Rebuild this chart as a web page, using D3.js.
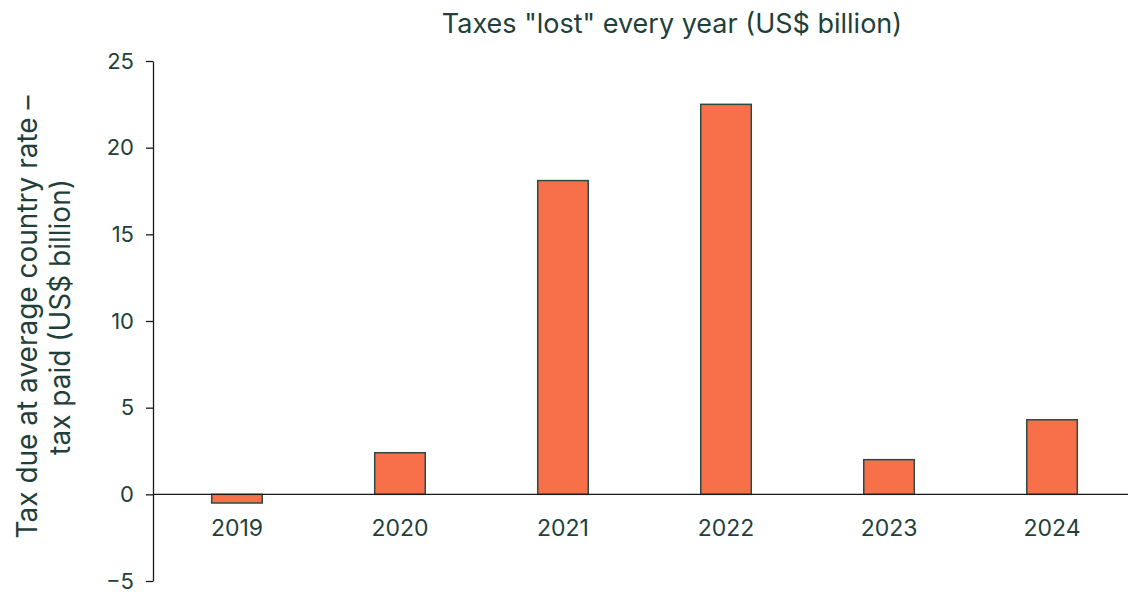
<!DOCTYPE html>
<html>
<head>
<meta charset="utf-8">
<script src="https://cdn.jsdelivr.net/npm/d3@7"></script>
<style>
  body { margin: 0; background: #fff; }
  text { font-family: Inter, "Noto Sans", sans-serif; fill: #1f3f3a; }
</style>
</head>
<body>
<svg id="chart" width="1128" height="592"></svg>
<script>
// years and the taxes "lost" each year (US$ billion)
const years = ["2019", "2020", "2021", "2022", "2023", "2024"];
const lostTax = [-0.5, 2.4, 18.1, 22.5, 2.0, 4.3];
const yTicks = [-5, 0, 5, 10, 15, 20, 25];

const svg = d3.select("#chart");

const x = d3.scaleBand()
  .domain(years)
  .range([153, 1136])
  .paddingInner(0.69)
  .paddingOuter(0.36);

const y = d3.scaleLinear()
  .domain([-5, 25])
  .range([581, 61]);

// title
svg.append("text")
  .attr("x", 672)
  .attr("y", 33)
  .attr("text-anchor", "middle")
  .attr("font-size", "27px")
  .text('Taxes "lost" every year (US$ billion)');

// y axis
const yAxis = svg.append("g")
  .attr("transform", "translate(153,0)")
  .call(d3.axisLeft(y).tickValues(yTicks).tickSize(7).tickSizeOuter(0).tickPadding(12));

yAxis.selectAll("path, line").attr("stroke", "#1a1a1a").attr("stroke-width", 1.3);
yAxis.selectAll("text")
  .attr("font-size", "22px")
  .style("font-family", "Inter, 'Noto Sans', sans-serif")
  .attr("fill", "#1f3f3a");

// y axis title
const yTitle = svg.append("text")
  .attr("transform", "translate(0,317) rotate(-90)")
  .attr("text-anchor", "middle")
  .attr("font-size", "28px");

yTitle.append("tspan").attr("x", 0).attr("y", 37).text("Tax due at average country rate –");
yTitle.append("tspan").attr("x", 0).attr("y", 70).text("tax paid (US$ billion)");

// bars
svg.selectAll("rect.bar")
  .data(years.map((yr, i) => ({ year: yr, value: lostTax[i] })))
  .join("rect")
  .attr("class", "bar")
  .attr("x", d => x(d.year))
  .attr("width", x.bandwidth())
  .attr("y", d => Math.min(y(d.value), y(0)))
  .attr("height", d => Math.abs(y(d.value) - y(0)))
  .attr("fill", "#f8704a")
  .attr("stroke", "#2c4a45")
  .attr("stroke-width", 1.5);

// zero line
svg.append("line")
  .attr("x1", 153)
  .attr("x2", 1128)
  .attr("y1", y(0))
  .attr("y2", y(0))
  .attr("stroke", "#1a1a1a")
  .attr("stroke-width", 1.3);

// year labels
svg.selectAll("text.year")
  .data(years)
  .join("text")
  .attr("class", "year")
  .attr("x", d => x(d) + x.bandwidth() / 2)
  .attr("y", y(0) + 42)
  .attr("text-anchor", "middle")
  .attr("font-size", "23px")
  .text(d => d);
</script>
</body>
</html>
